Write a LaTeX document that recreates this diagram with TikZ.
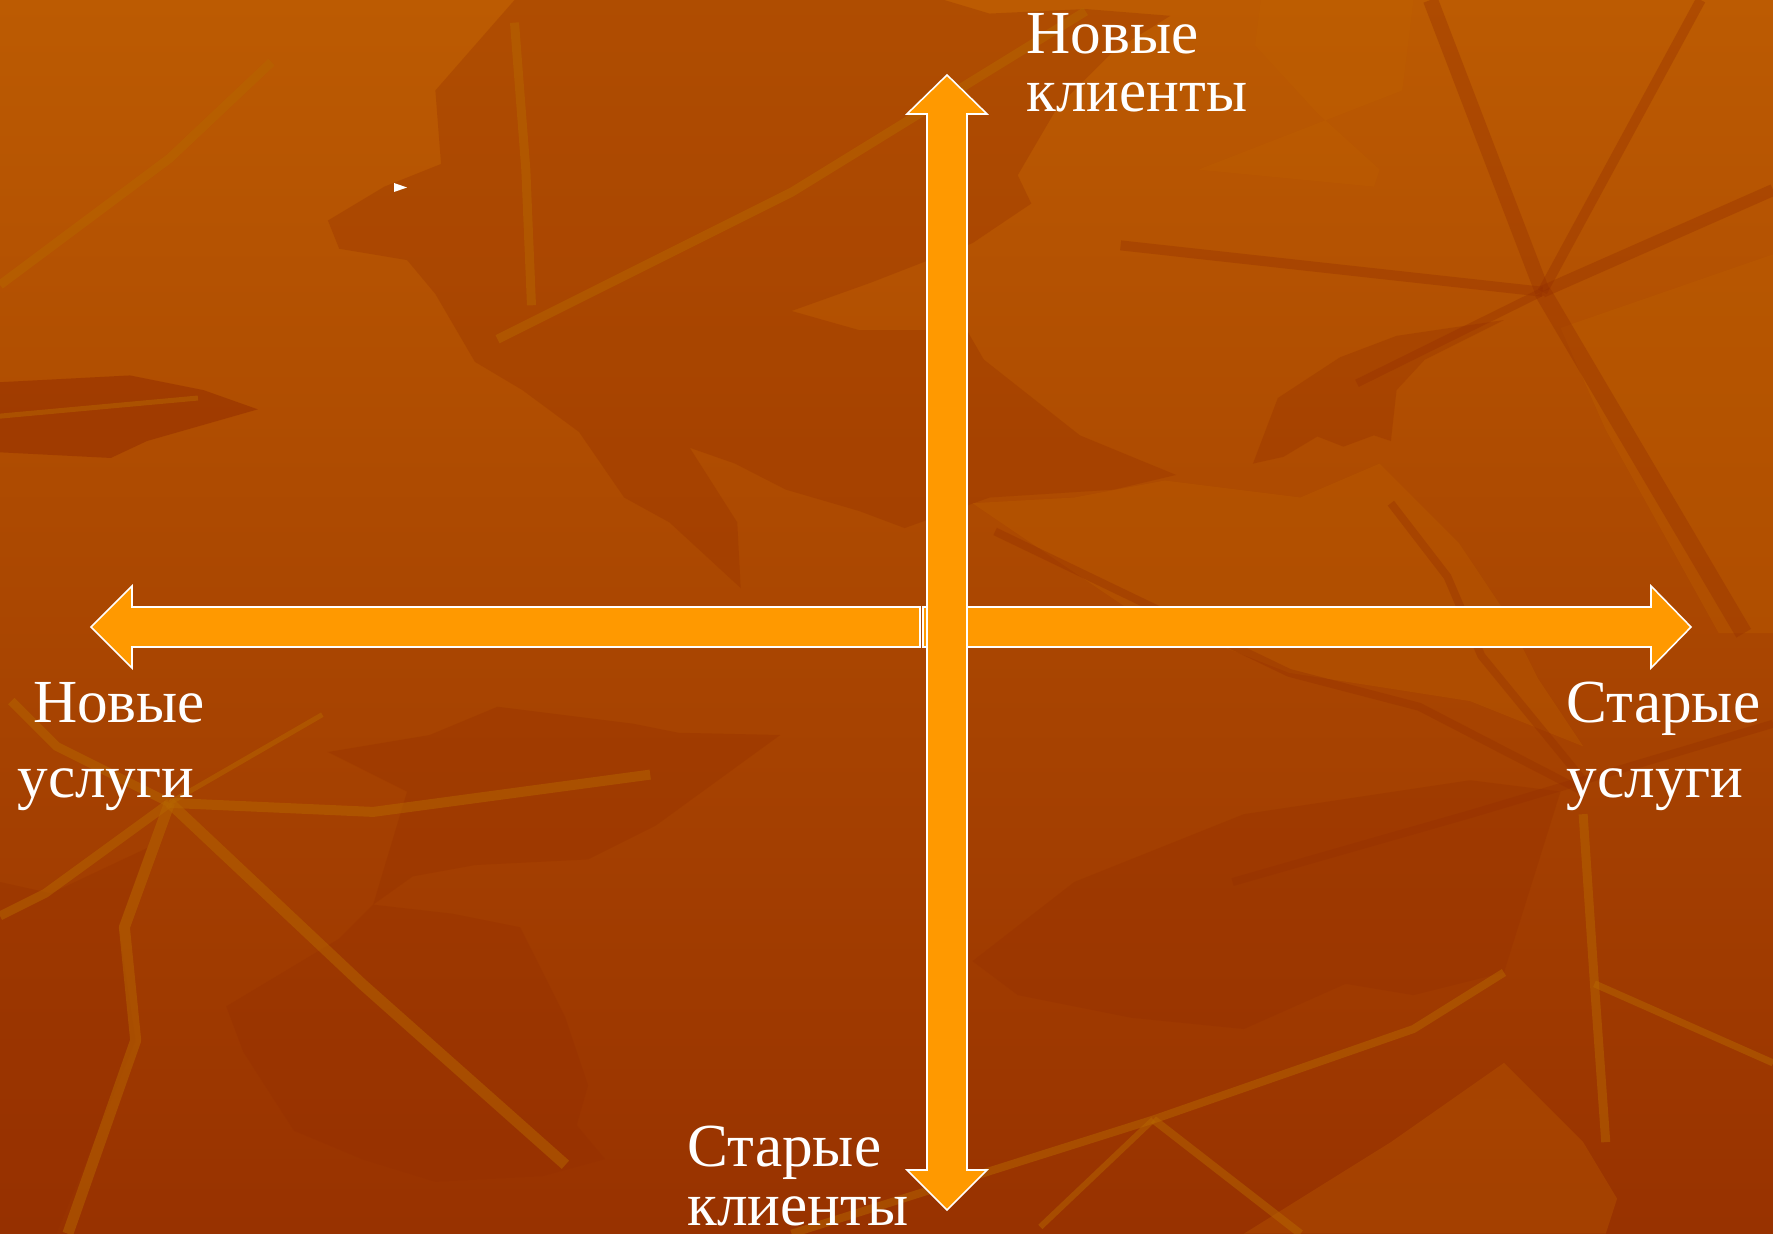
\documentclass[tikz,border=0pt]{standalone}
\usepackage{fontspec}
\setmainfont{Liberation Serif}
\usepackage{tikz}
\usetikzlibrary{arrows.meta,positioning,calc}
\definecolor{slidetop}{RGB}{188,91,2}
\definecolor{slidebot}{RGB}{152,50,0}
\definecolor{leafshade}{RGB}{148,46,0}
\definecolor{leaflight}{RGB}{192,98,0}
\definecolor{veinlight}{RGB}{182,102,0}
\definecolor{arroworange}{RGB}{255,153,0}
\tikzset{
  leafdark/.style={fill=leafshade, fill opacity=.3},
  leaflight/.style={fill=leaflight, fill opacity=.3},
  veinlight/.style={draw=veinlight, draw opacity=.5, line join=round},
  veindark/.style={draw=leafshade, draw opacity=.35, line join=round},
  blockarrow/.style={fill=arroworange, draw=white, line width=.45pt, line join=miter},
  axislabel/.style={text=white, font=\fontsize{17.4}{16.6}\selectfont,
    align=left, inner sep=0pt, anchor=base west}
}

\begin{document}
\begin{tikzpicture}[x=0.01cm,y=-0.01cm]
  \useasboundingbox (0,0) rectangle (1773,1234);
  \fill[top color=slidetop,bottom color=slidebot] (0,0) rectangle (1773,1234);

  % leaves in the background
  \begin{scope}[scale=1.1308]
    \fill[leafdark] (385,80) -- (420,40) -- (455,0) -- (835,0) -- (875,12) -- (960,8) -- (1035,14)
      -- (985,45) -- (935,95) -- (900,155) -- (912,180) -- (860,215) -- (770,250) -- (700,275)
      -- (760,292) -- (855,292) -- (870,318) -- (955,385) -- (1040,420) -- (985,433) -- (875,440)
      -- (800,467) -- (760,452) -- (695,433) -- (650,410) -- (610,396) -- (652,462) -- (655,520)
      -- (592,462) -- (552,440) -- (512,382) -- (462,345) -- (420,320) -- (385,260) -- (360,230)
      -- (300,220) -- (290,195) -- (340,165) -- (390,145) -- cycle;
    \fill[leafdark,fill opacity=.55] (0,338) -- (115,332) -- (180,345) -- (228,362) -- (130,390)
      -- (98,405) -- (0,400) -- cycle;
    \fill[leafdark] (1108,410) -- (1130,352) -- (1185,316) -- (1235,297) -- (1330,283) -- (1260,318)
      -- (1235,345) -- (1230,390) -- (1215,385) -- (1188,395) -- (1165,386) -- (1135,404) -- cycle;
    \fill[leaflight] (860,445) -- (950,440) -- (1030,425) -- (1150,440) -- (1220,410) -- (1290,480)
      -- (1330,540) -- (1360,600) -- (1400,660) -- (1300,620) -- (1140,595) -- (1000,540) -- cycle;
    \fill[leaflight] (1060,150) -- (1215,165) -- (1220,150) -- (1165,100) -- (1110,40) -- (1115,0)
      -- (1250,0) -- (1240,80) -- cycle;
    \fill[leaflight] (1380,290) -- (1568,225) -- (1568,560) -- (1520,560) -- (1420,380) -- cycle;
    \fill[leafdark] (860,850) -- (950,780) -- (1100,720) -- (1300,690) -- (1380,700) -- (1330,860)
      -- (1250,880) -- (1190,870) -- (1100,910) -- (1000,900) -- (900,880) -- cycle;
    \fill[leafdark] (0,780) -- (45,790) -- (130,750) -- (105,820) -- (120,920) -- (50,1091)
      -- (0,1091) -- cycle;
    \fill[leafdark] (200,890) -- (215,930) -- (260,1000) -- (320,1025) -- (385,1045) -- (480,1040)
      -- (535,1025) -- (510,995) -- (520,960) -- (500,900) -- (460,820) -- (400,808) -- (330,800)
      -- (300,830) -- cycle;
    \fill[leafdark] (330,800) -- (365,775) -- (420,765) -- (520,760) -- (580,730) -- (690,650)
      -- (600,648) -- (560,640) -- (440,625) -- (380,650) -- (290,665) -- (360,700) -- cycle;
    \fill[leaflight] (1100,1091) -- (1230,1010) -- (1330,940) -- (1400,1010) -- (1430,1060)
      -- (1420,1091) -- cycle;

    % veins
    \draw[veinlight,line width=.9mm] (0,252) -- (150,140) -- (240,55);
    \draw[veinlight,line width=.9mm] (440,300) -- (700,170) -- (960,10);
    \draw[veinlight,line width=.9mm] (455,20) -- (465,150) -- (470,270);
    \draw[veinlight,line width=.5mm] (0,368) -- (175,352);
    \draw[veinlight,line width=1mm] (150,710) -- (330,718) -- (575,685);
    \draw[veinlight,line width=1.1mm] (150,710) -- (320,870) -- (500,1030);
    \draw[veinlight,line width=1.1mm] (150,710) -- (110,820) -- (120,920) -- (60,1091);
    \draw[veinlight,line width=.9mm] (150,710) -- (40,790) -- (0,810);
    \draw[veinlight,line width=.9mm] (150,710) -- (50,660) -- (10,620);
    \draw[veinlight,line width=.5mm] (150,710) -- (285,632);
    \draw[veinlight,line width=.8mm] (700,1091) -- (1020,990) -- (1250,910) -- (1330,860);
    \draw[veinlight,line width=.8mm] (1020,990) -- (1150,1091);
    \draw[veinlight,line width=.6mm] (1020,990) -- (920,1085);
    \draw[veinlight,line width=.9mm] (1400,720) -- (1410,870) -- (1420,1010);
    \draw[veinlight,line width=.7mm] (1410,870) -- (1568,940);
    \draw[veindark,line width=1.5mm] (1364,258) -- (1265,0);
    \draw[veindark,line width=1mm] (1364,258) -- (1504,0);
    \draw[veindark,line width=1.7mm] (1364,258) -- (1542,560);
    \draw[veindark,line width=1mm] (1364,258) -- (991,217);
    \draw[veindark,line width=1.2mm] (1364,258) -- (1568,168);
    \draw[veindark,line width=.8mm] (1364,258) -- (1200,339);
    \draw[veindark,line width=.8mm] (880,470) -- (1140,595) -- (1255,625) -- (1400,700);
    \draw[veindark,line width=.8mm] (1090,780) -- (1300,720) -- (1568,640);
    \draw[veindark,line width=.8mm] (1230,445) -- (1280,510) -- (1310,580) -- (1400,690);
  \end{scope}

  % axes
  \draw[blockarrow] (920,607) -- (132,607) -- (132,586) -- (91,627) -- (132,668) -- (132,647)
    -- (920,647) -- cycle;
  \draw[blockarrow] (923,607) -- (1651,607) -- (1651,586) -- (1691,627) -- (1651,668) -- (1651,647)
    -- (923,647) -- cycle;
  \draw[blockarrow] (927,1170) -- (927,114) -- (907,114) -- (947,75) -- (987,114) -- (967,114)
    -- (967,1170) -- (987,1170) -- (947,1210) -- (907,1170) -- cycle;
  \fill[white] (394,183) -- (407,187.5) -- (394,192) -- cycle;

  \node[axislabel] (newclients) at (1026,112) {Новые\\клиенты};
  \node[axislabel] (oldclients) at (687,1225) {Старые\\клиенты};
  \node[axislabel,font=\fontsize{17.4}{21.3}\selectfont] (newservices) at (17,797)
    {\hspace*{.25em}Новые\\услуги};
  \node[axislabel,font=\fontsize{17.4}{21.3}\selectfont] (oldservices) at (1566,797)
    {Старые\\услуги};
\end{tikzpicture}
\end{document}
